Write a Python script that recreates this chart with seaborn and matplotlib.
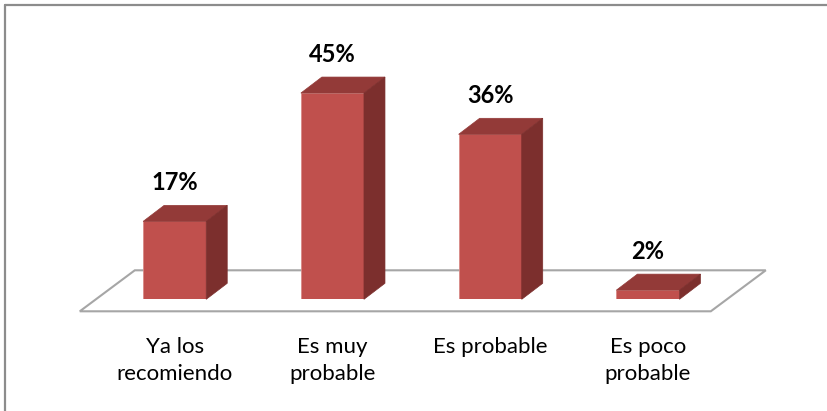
import numpy as np
import pandas as pd
import seaborn as sns
import matplotlib.pyplot as plt
from matplotlib.patches import Polygon
from matplotlib.lines import Line2D

# data
categories = ["Ya los\nrecomiendo", "Es muy\nprobable", "Es probable", "Es poco\nprobable"]
percentages = [17, 45, 36, 2]
value_labels = ["17%", "45%", "36%", "2%"]

FRONT = "#C0504D"
TOP = "#933A38"
SIDE = "#7C2F2D"
EDGE = "#D98A87"

sns.set_theme(style="white")
plt.rcParams['font.family'] = ['Lato', 'DejaVu Sans']

fig = plt.figure(figsize=(8.27, 4.11), dpi=100)
ax = fig.add_axes([95.8 / 827, 111.7 / 411, 631 / 827, 275 / 411])

df = pd.DataFrame({"cat": categories, "pct": percentages})
sns.barplot(data=df, x="cat", y="pct", color=FRONT, saturation=1, width=0.4,
            ax=ax, zorder=3, edgecolor=EDGE, linewidth=0.6)
ax.set_xlim(-0.5, 3.5)
ax.set_ylim(0, 60)


def shifted(points, dx, dy):
    # move data points by a fixed offset in pixels (the fake 3D depth)
    disp = ax.transData.transform(points) + np.array([dx, dy])
    return ax.transData.inverted().transform(disp)


# bar depth in pixels
DX, DY = 21, 16

# floor parallelogram
fl = [(-0.5, 0), (3.5, 0)]
front = shifted(fl, -16, -12)
back = shifted(fl, 39, 29)
floor = Polygon([front[0], front[1], back[1], back[0]], closed=True,
                facecolor="white", edgecolor="#A6A6A6", linewidth=1.5,
                zorder=1, clip_on=False)
ax.add_patch(floor)

for p, lab in zip(list(ax.patches)[:len(percentages)], value_labels):
    x0, w, h = p.get_x(), p.get_width(), p.get_height()
    top_back = shifted([(x0 + w, h), (x0, h)], DX, DY)
    ax.add_patch(Polygon([(x0, h), (x0 + w, h), top_back[0], top_back[1]],
                         closed=True, facecolor=TOP, edgecolor=TOP,
                         linewidth=0.5, zorder=4, clip_on=False))
    side_back = shifted([(x0 + w, h), (x0 + w, 0)], DX, DY)
    ax.add_patch(Polygon([(x0 + w, 0), (x0 + w, h), side_back[0], side_back[1]],
                         closed=True, facecolor=SIDE, edgecolor=SIDE,
                         linewidth=0.5, zorder=4, clip_on=False))
    ax.annotate(lab, (x0 + w / 2, h), xytext=(0, 39), textcoords="offset pixels",
                ha="center", va="center", fontsize=17, fontweight="bold",
                color="black")

sns.despine(ax=ax, left=True, bottom=True)
ax.set_xlabel("")
ax.set_ylabel("")
ax.set_yticks([])
ax.tick_params(axis="x", length=0, pad=27, labelsize=16, colors="black")
for t in ax.get_xticklabels():
    t.set_linespacing(1.45)

# chart-area border (only top and left visible in the crop)
border = dict(color="#8C8C8C", linewidth=1.6, transform=fig.transFigure)
fig.add_artist(Line2D([5 / 827, 1], [1 - 5 / 411, 1 - 5 / 411], **border))
fig.add_artist(Line2D([5 / 827, 5 / 827], [0, 1 - 5 / 411], **border))

fig.savefig("out.png", dpi=100, facecolor="white")
